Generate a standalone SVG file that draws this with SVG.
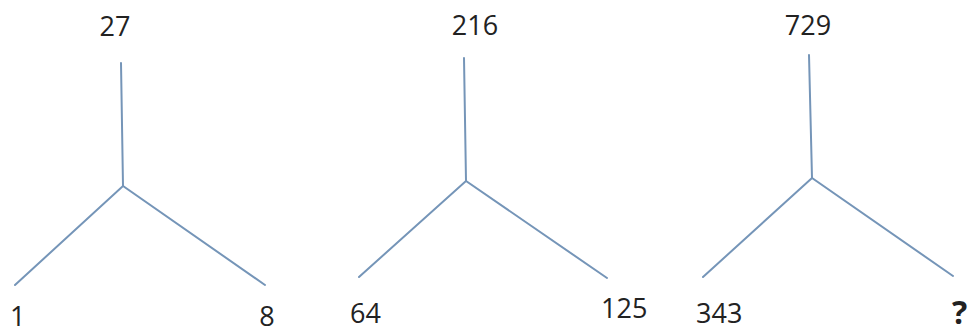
<svg xmlns="http://www.w3.org/2000/svg" width="974" height="334" viewBox="0 0 974 334">
<style>
.ln{stroke:#7595b8;stroke-width:2;fill:none;stroke-linecap:round}
.t{font-family:"Open Sans","Liberation Sans",sans-serif;font-size:27px;fill:#222}
.m{text-anchor:middle}
.q{font-weight:bold;font-size:32px}
</style>
<rect width="974" height="334" fill="#fff"/>
<g id="connectors">
<polyline class="ln" points="121,63 123,186"/>
<polyline class="ln" points="15,285 123,186 265,285"/>
<polyline class="ln" points="464,58 466,181"/>
<polyline class="ln" points="359,277 466,181 607,278"/>
<polyline class="ln" points="809,55 812,178"/>
<polyline class="ln" points="703,277 812,178 953,276"/>
</g>
<g id="n27"><text class="t m" x="115" y="36">27</text></g>
<g id="n1"><text class="t" x="10" y="326">1</text></g>
<g id="n8"><text class="t m" x="267" y="326">8</text></g>
<g id="n216"><text class="t m" x="475" y="35">216</text></g>
<g id="n64"><text class="t" x="350" y="323">64</text></g>
<g id="n125"><text class="t" x="601" y="318">125</text></g>
<g id="n729"><text class="t m" x="808" y="35">729</text></g>
<g id="n343"><text class="t" x="696" y="323">343</text></g>
<g id="nq"><text class="t q" x="952" y="324">?</text></g>
</svg>
